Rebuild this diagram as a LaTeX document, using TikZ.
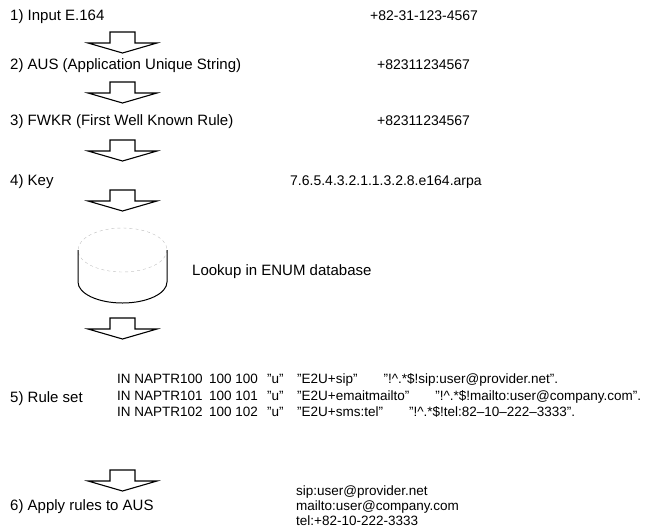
\documentclass[tikz,border=0pt]{standalone}
\usepackage{fontspec}
\setmainfont{Liberation Sans}

\begin{document}
\begin{tikzpicture}[x=1pt,y=-1pt,
  etape/.style={anchor=base west, inner sep=0pt, font=\fontsize{15}{17}\selectfont},
  valeur/.style={anchor=base west, inner sep=0pt, font=\fontsize{14}{17}\selectfont},
  regle/.style={anchor=base west, inner sep=0pt, font=\fontsize{13.5}{15}\selectfont},
  sortie/.style={anchor=base west, inner sep=0pt, font=\fontsize{13.5}{15}\selectfont},
  fleche/.style={draw, line width=1.1pt, line join=miter},
  base/.style={draw, line width=1pt}]

\useasboundingbox (0,0) rectangle (651,531);

% les etapes, colonne de gauche
\node[etape] (in)    at (10,20)  {1) Input E.164};
\node[etape] (aus)   at (10,69)  {2) AUS (Application Unique String)};
\node[etape] (fwkr)  at (10,125) {3) FWKR (First Well Known Rule)};
\node[etape] (key)   at (10,185) {4) Key};
\node[etape] (rules) at (10,402) {5) Rule set};
\node[etape] (apply) at (10,510) {6) Apply rules to AUS};

% les valeurs, colonne de droite
\node[valeur] (vin)   at (370,20)  {+82-31-123-4567};
\node[valeur] (vaus)  at (377,69)  {+82311234567};
\node[valeur] (vfwkr) at (377,125) {+82311234567};
\node[valeur] (vkey)  at (290,185) {7.6.5.4.3.2.1.1.3.2.8.e164.arpa};
\node[etape]  (look)  at (192,275) {Lookup in ENUM database};

% les enregistrements NAPTR
\node[regle] (r1) at (117,383) {\makebox[92pt][l]{IN NAPTR100}\makebox[58pt][l]{100 100}\makebox[30pt][l]{"u"}"E2U+sip"\hspace{26pt}"!\textasciicircum.*\$!sip:user@provider.net".};
\node[regle] (r2) at (117,400) {\makebox[92pt][l]{IN NAPTR101}\makebox[58pt][l]{100 101}\makebox[30pt][l]{"u"}"E2U+emaitmailto"\hspace{26pt}"!\textasciicircum.*\$!mailto:user@company.com".};
\node[regle] (r3) at (117,416) {\makebox[92pt][l]{IN NAPTR102}\makebox[58pt][l]{100 102}\makebox[30pt][l]{"u"}"E2U+sms:tel"\hspace{26pt}"!\textasciicircum.*\$!tel:82--10--222--3333".};

% le resultat
\node[sortie] (res1) at (296,495) {sip:user@provider.net};
\node[sortie] (res2) at (296,510) {mailto:user@company.com};
\node[sortie] (res3) at (296,525) {tel:+82-10-222-3333};

% les fleches
\foreach \y in {32,82,140,190,318,470}{
    \draw[fleche] (110,\y) -- (135,\y) -- (135,\y+11) -- (157,\y+11) -- (122.5,\y+21) -- (88,\y+11) -- (110,\y+11) -- cycle;
}

% la base ENUM
\coordinate (db) at (122.5,250);
\draw[gray!50, dashed] (db) ellipse [x radius=44.5, y radius=22]; % le dessus, presque efface
\draw[base] (78,250) -- (78,282) arc [start angle=180, end angle=0, x radius=44.5, y radius=21] -- (167,250);

\end{tikzpicture}
\end{document}
